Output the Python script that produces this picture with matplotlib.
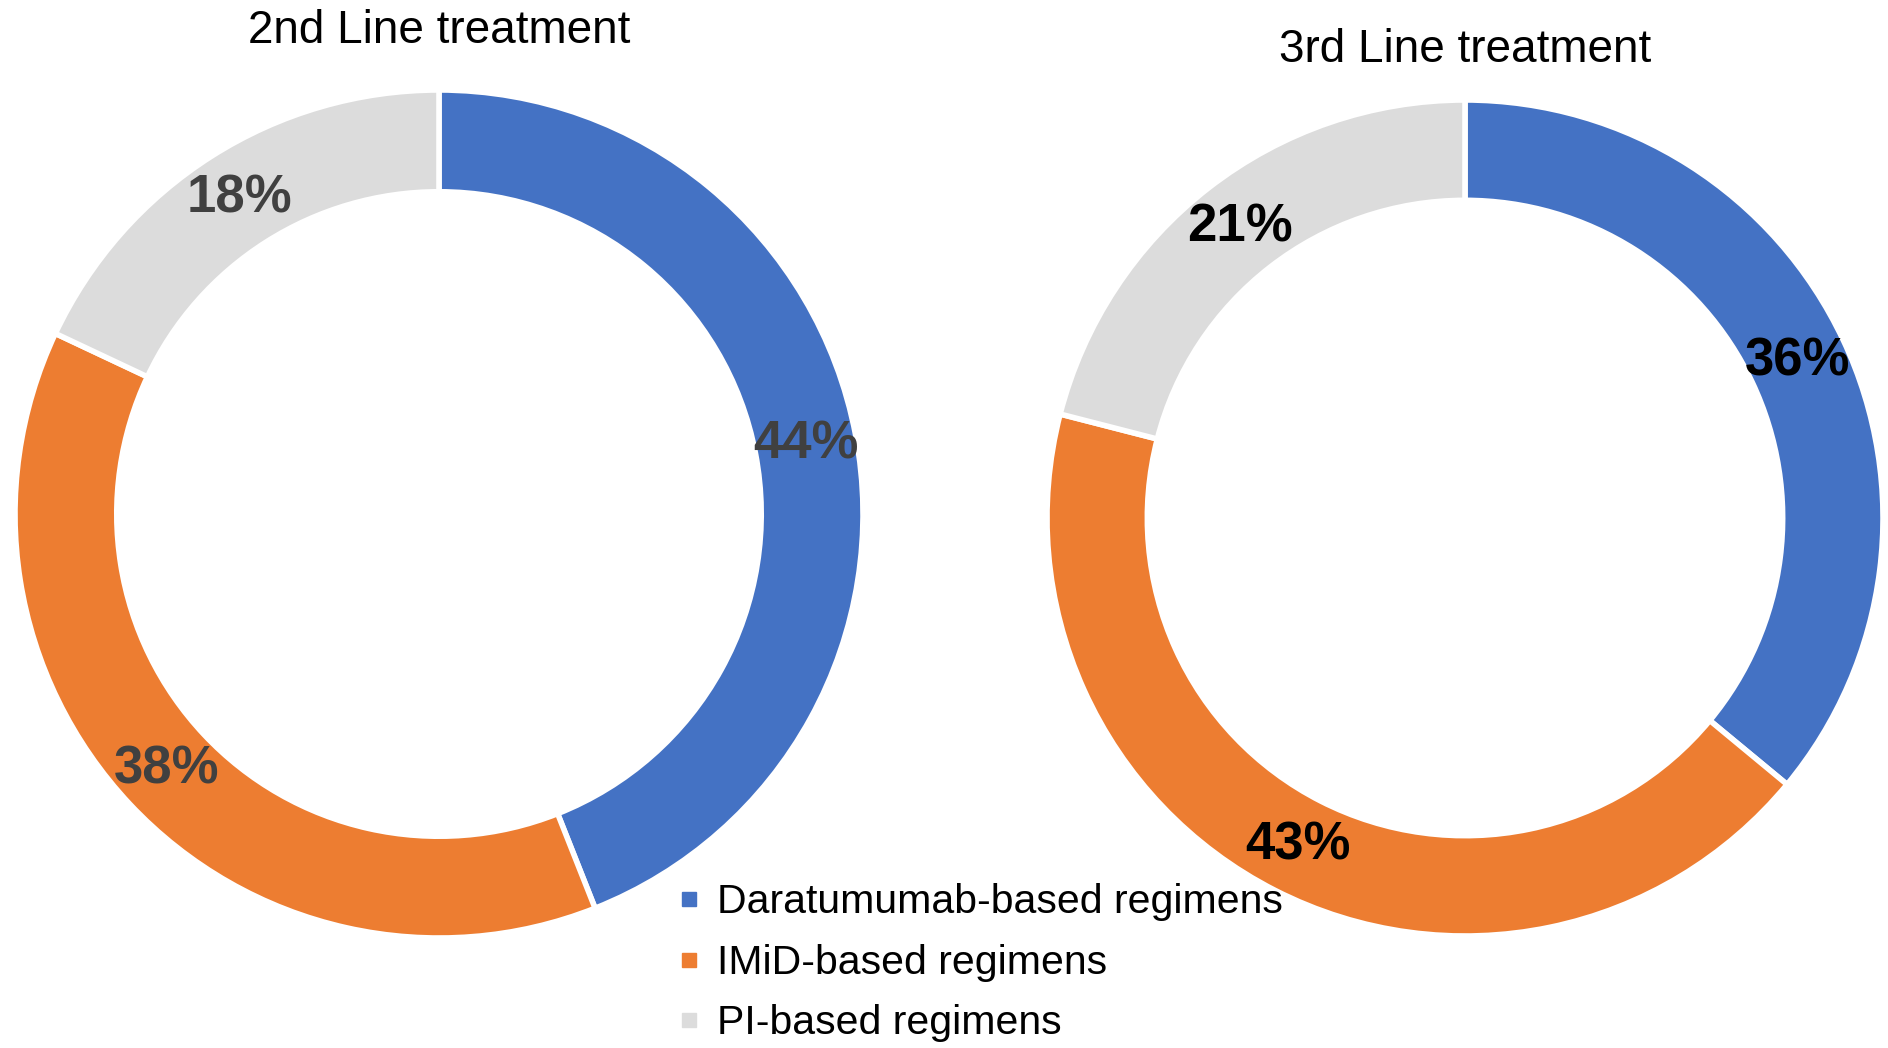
import matplotlib
matplotlib.use("Agg")
import matplotlib.pyplot as plt
from matplotlib.lines import Line2D

plt.rcParams['font.family'] = ['Liberation Sans', 'DejaVu Sans']

categories = ["Daratumumab-based regimens", "IMiD-based regimens", "PI-based regimens"]
colors = ["#4472C4", "#ED7D31", "#DCDCDC"]
second_line = [44, 38, 18]
third_line = [36, 43, 21]
titles = ["2nd Line treatment", "3rd Line treatment"]

W, H = 1888, 1048
fig = plt.figure(figsize=(W / 100, H / 100), dpi=100)


def donut(values, cx, cy, r, title, ty, label_color):
    # cx, cy, r in pixels from top-left
    ax = fig.add_axes([(cx - r) / W, (H - cy - r) / H, 2 * r / W, 2 * r / H])
    ax.pie(
        values, colors=colors, startangle=90, counterclock=False,
        autopct=lambda p: f"{p:.0f}%", pctdistance=0.88,
        wedgeprops=dict(width=0.24, edgecolor="white", linewidth=4),
        textprops=dict(fontsize=38, fontweight="bold", color=label_color),
    )
    ax.set_xlim(-1, 1)
    ax.set_ylim(-1, 1)
    fig.text(cx / W, 1 - ty / H, title, ha="center", va="center", fontsize=33)


donut(second_line, 439, 514, 424, titles[0], 31, "#404040")
donut(third_line, 1465, 518, 418, titles[1], 50, "black")

handles = [Line2D([], [], marker="s", linestyle="none", markersize=10,
                  markerfacecolor=c, markeredgecolor=c) for c in colors]
fig.legend(handles, categories, loc="upper left",
           bbox_to_anchor=(660 / W, 1 - 867 / H), frameon=False,
           fontsize=29.5, handlelength=0.6, handletextpad=0.4,
           labelspacing=0.55, borderaxespad=0)

fig.savefig("out.png", dpi=100)
